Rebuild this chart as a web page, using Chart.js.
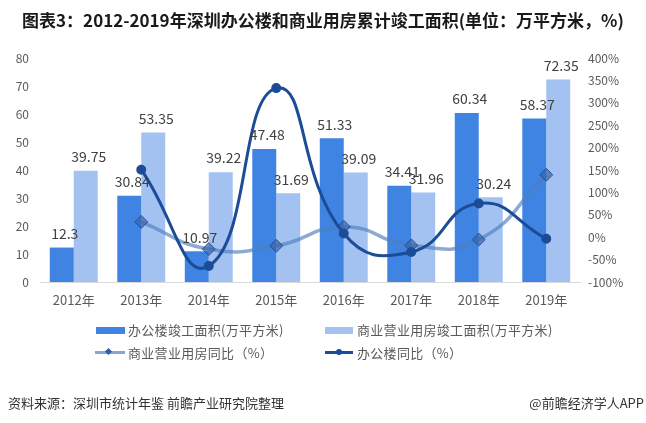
<!DOCTYPE html>
<html><head><meta charset="utf-8">
<script src="https://cdn.jsdelivr.net/npm/chart.js@4"></script>
<style>
html,body{margin:0;padding:0;background:#fff;}
#wrap{position:relative;width:646px;height:423px;overflow:hidden;font-family:"Noto Sans CJK SC","Microsoft YaHei",sans-serif;}
#c{position:absolute;left:0;top:0;}
.t{position:absolute;white-space:nowrap;}
#title{left:0;width:646px;text-align:center;top:8px;font-size:17px;font-weight:bold;color:#1a1a1a;line-height:24px;}
.lg{font-size:13px;color:#595959;line-height:18px;letter-spacing:0.3px;}
.sw{position:absolute;}
#foot{left:8px;top:394px;font-size:13px;color:#333;line-height:18px;}
#foot2{right:2px;top:394px;font-size:13px;color:#333;line-height:18px;}
</style></head>
<body><div id="wrap">
<canvas id="c" width="646" height="423"></canvas>
<div id="title" class="t">图表3：2012-2019年深圳办公楼和商业用房累计竣工面积(单位：万平方米，%)</div>
<div class="sw" style="left:96px;top:327px;width:29px;height:7px;background:#3F84E2"></div>
<div class="t lg" style="left:128px;top:321px">办公楼竣工面积(万平方米)</div>
<div class="sw" style="left:325px;top:327px;width:28px;height:7px;background:#A3C2F1"></div>
<div class="t lg" style="left:357px;top:321px">商业营业用房竣工面积(万平方米)</div>
<div class="sw" style="left:95px;top:351px;width:30px;height:3px;background:#86A7D6"></div>
<div class="sw" style="left:106px;top:349px;width:5px;height:5px;background:#2F5FA8;transform:rotate(45deg)"></div>
<div class="t lg" style="left:128px;top:344px">商业营业用房同比（%）</div>
<div class="sw" style="left:325px;top:351px;width:28px;height:3px;background:#1C4C96"></div>
<div class="sw" style="left:336px;top:349px;width:6px;height:6px;border-radius:3px;background:#1C4C96"></div>
<div class="t lg" style="left:357px;top:344px">办公楼同比（%）</div>
<div id="foot" class="t">资料来源：深圳市统计年鉴 前瞻产业研究院整理</div>
<div id="foot2" class="t">@前瞻经济学人APP</div>
</div>
<script>
const categories = ["2012年","2013年","2014年","2015年","2016年","2017年","2018年","2019年"];
const officeArea = [12.3, 30.84, 10.97, 47.48, 51.33, 34.41, 60.34, 58.37];
const commercialArea = [39.75, 53.35, 39.22, 31.69, 39.09, 31.96, 30.24, 72.35];
const commercialYoY = [null, 34.2, -26.5, -19.2, 23.4, -18.2, -5.4, 139.3];
const officeYoY = [null, 150.7, -64.4, 332.8, 8.1, -33.0, 75.4, -3.3];

const FONT = '"Noto Sans CJK SC","Microsoft YaHei",sans-serif';

const barLabels = {
  id: 'barLabels',
  afterDatasetsDraw(chart) {
    const ctx = chart.ctx;
    ctx.save();
    ctx.font = '14px ' + FONT;
    ctx.fillStyle = '#404040';
    ctx.textAlign = 'center';
    ctx.textBaseline = 'middle';
    [0, 1].forEach(di => {
      const meta = chart.getDatasetMeta(di);
      const data = chart.data.datasets[di].data;
      meta.data.forEach((el, i) => {
        ctx.fillText(String(data[i]), el.x + 3, el.y - 14);
      });
    });
    ctx.restore();
  }
};

new Chart(document.getElementById('c'), {
  data: {
    labels: categories,
    datasets: [
      { type: 'bar', label: '办公楼竣工面积(万平方米)', data: officeArea, backgroundColor: '#3F84E2', yAxisID: 'y', order: 3, categoryPercentage: 0.71, barPercentage: 1 },
      { type: 'bar', label: '商业营业用房竣工面积(万平方米)', data: commercialArea, backgroundColor: '#A3C2F1', yAxisID: 'y', order: 3, categoryPercentage: 0.71, barPercentage: 1 },
      { type: 'line', label: '商业营业用房同比（%）', data: commercialYoY, yAxisID: 'y1', order: 2,
        borderColor: 'rgba(80,125,190,0.65)', borderWidth: 3.5, tension: 0.5,
        pointStyle: 'rectRot', pointRadius: 6.5, pointBackgroundColor: 'rgba(55,100,170,0.7)', pointBorderColor: 'rgba(30,70,140,0.8)', pointBorderWidth: 1 },
      { type: 'line', label: '办公楼同比（%）', data: officeYoY, yAxisID: 'y1', order: 1,
        borderColor: '#1C4C96', borderWidth: 3, tension: 0.5,
        pointStyle: 'circle', pointRadius: 3.5, pointBackgroundColor: '#1C4C96', pointBorderColor: '#1C4C96' }
    ]
  },
  options: {
    responsive: false,
    animation: false,
    layout: { padding: { left: 0, right: 0, top: 58, bottom: 111 } },
    plugins: { legend: { display: false }, tooltip: { enabled: false } },
    scales: {
      x: {
        grid: { display: false, drawTicks: false },
        border: { display: true, color: '#D9D9D9', width: 1 },
        ticks: { color: '#595959', font: { size: 13, family: FONT }, padding: 10, maxRotation: 0 },
        afterFit: s => { s.height = 30; }
      },
      y: {
        position: 'left', min: 0, max: 80,
        grid: { display: false, drawTicks: false },
        border: { display: false },
        ticks: { stepSize: 10, color: '#595959', font: { size: 12, family: FONT }, padding: 11 },
        afterFit: s => { s.width = 40; }
      },
      y1: {
        position: 'right', min: -100, max: 400,
        grid: { display: false, drawTicks: false },
        border: { display: false },
        ticks: { stepSize: 50, color: '#595959', font: { size: 12, family: FONT }, padding: 8, callback: v => v + '%' },
        afterFit: s => { s.width = 66; }
      }
    }
  },
  plugins: [barLabels]
});
</script>
</body></html>
